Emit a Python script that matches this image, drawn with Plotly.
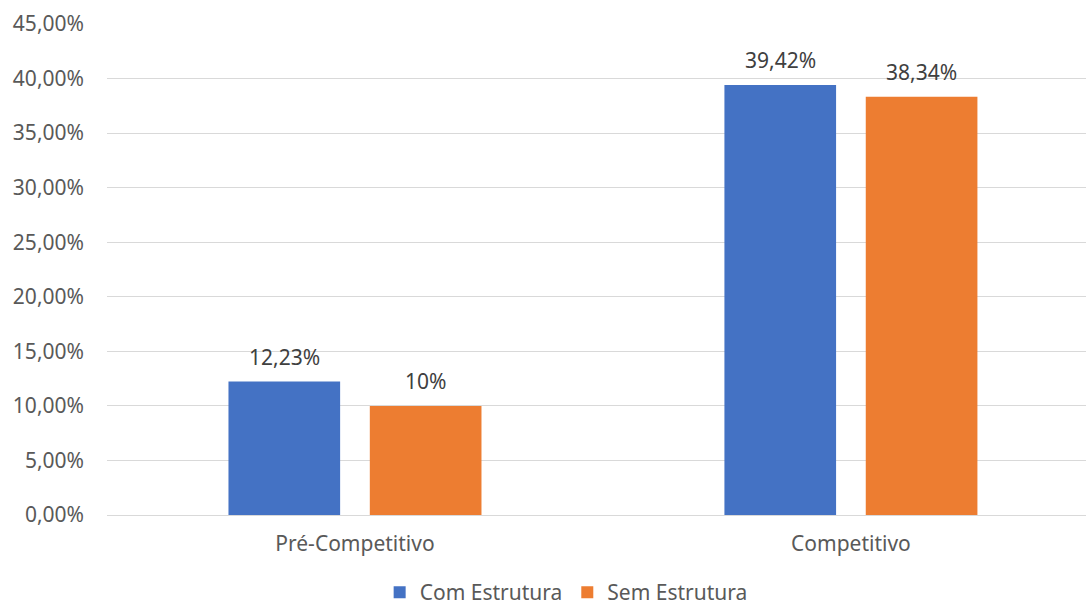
import plotly.graph_objects as go

categories = ["Pré-Competitivo", "Competitivo"]
series_names = ["Com Estrutura", "Sem Estrutura"]
com_estrutura = [0.1223, 0.3942]
sem_estrutura = [0.10, 0.3834]
com_labels = ["12,23%", "39,42%"]
sem_labels = ["10%", "38,34%"]
colors = ["#4472C4", "#ED7D31"]
tick_vals = [0, 0.05, 0.10, 0.15, 0.20, 0.25, 0.30, 0.35, 0.40, 0.45]

FONT = "Noto Sans"
GREY = "#595959"
SIZE = 21
BARGAP = 0.43

fig = go.Figure()
series = [
    (series_names[0], com_estrutura, com_labels, colors[0]),
    (series_names[1], sem_estrutura, sem_labels, colors[1]),
]
for name, vals, labels, col in series:
    fig.add_trace(go.Bar(
        x=categories, y=vals, name=name, marker=dict(color=col, line=dict(width=0)),
    ))

# data labels above each bar, centred on the bar's slot within its group
slot = (1 - BARGAP) / len(series)
annotations = []
for s_idx, (name, vals, labels, col) in enumerate(series):
    offset = -(1 - BARGAP) / 2 + slot * (s_idx + 0.5)
    for c_idx, (v, lab) in enumerate(zip(vals, labels)):
        annotations.append(dict(
            x=c_idx + offset, y=v, xref="x", yref="y", text=lab, showarrow=False,
            yanchor="bottom", yshift=9,
            font=dict(family=FONT, size=SIZE, color="#404040"),
        ))

fig.update_layout(
    width=1086, height=607,
    margin=dict(l=107, r=0, t=24, b=92, autoexpand=False),
    paper_bgcolor="white", plot_bgcolor="white",
    separators=",.",
    barmode="group", bargap=BARGAP, bargroupgap=0.21,
    font=dict(family=FONT, size=SIZE, color=GREY),
    showlegend=True,
    annotations=annotations,
    legend=dict(orientation="h", x=0.469, xanchor="center", y=-0.158, yanchor="middle",
                font=dict(family=FONT, size=SIZE, color=GREY), itemwidth=30,
                tracegroupgap=0, bgcolor="rgba(0,0,0,0)"),
    xaxis=dict(range=[-0.5, 1.474], showgrid=False, showline=False, ticks="",
               automargin=False, ticklabelstandoff=14,
               tickfont=dict(family=FONT, size=SIZE, color=GREY)),
    yaxis=dict(range=[0, 0.45], tickvals=tick_vals, tickformat=".2%",
               showgrid=True, gridcolor="#D9D9D9", gridwidth=1,
               zeroline=True, zerolinecolor="#D9D9D9", zerolinewidth=1,
               showline=False, ticks="", ticklabelstandoff=22, automargin=False,
               tickfont=dict(family=FONT, size=SIZE, color=GREY)),
)

fig.write_html("out.html")
